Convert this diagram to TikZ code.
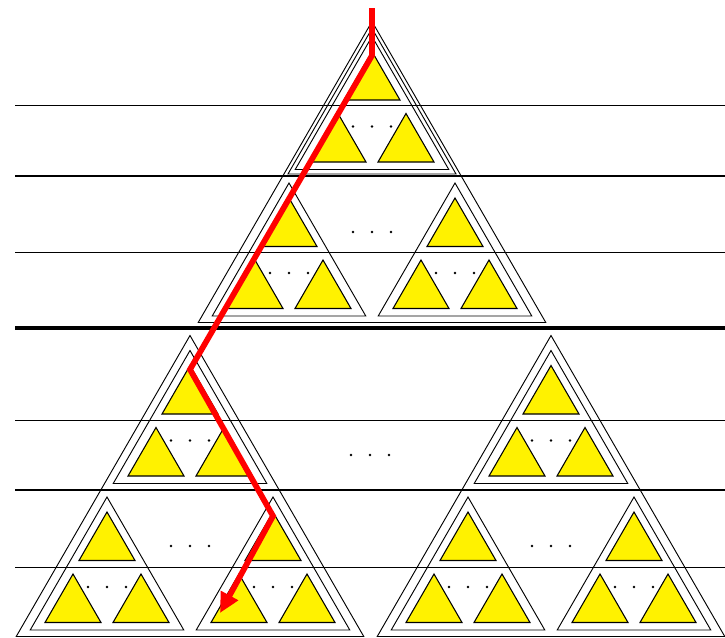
\documentclass[tikz,border=0pt]{standalone}
\usetikzlibrary{arrows.meta}
\tikzset{
  yellowtri/.style={draw=black, fill=yellow, line width=0.8pt},
  frametri/.style={draw=black, line width=0.7pt},
  thinrule/.style={draw=black, line width=0.6pt},
  midrule/.style={draw=black, line width=2pt},
  thickrule/.style={draw=black, line width=3.2pt},
  searchpath/.style={draw=red, line width=4.3pt, -{Triangle[length=15pt,width=14pt]}},
  dotmark/.style={fill=black}
}
% yellow leaf triangle, apex at (#1,#2)
\newcommand{\yellowtri}[2]{\filldraw[yellowtri] (#1,#2) -- ++(-28,48.5) -- ++(56,0) -- cycle;}
% frame triangle: apex x, apex y, height
\newcommand{\frametri}[3]{\draw[frametri] (#1,#2) -- ++({-#3/sqrt(3)},#3) -- ++({2*#3/sqrt(3)},0) -- cycle;}
\newcommand{\threedots}[3]{%
  \fill[dotmark] (#1-#3,#2) circle (1.1pt) (#1,#2) circle (1.1pt) (#1+#3,#2) circle (1.1pt);}
% small unit: name, x, y (apex of its frame)
\newcommand{\levelone}[3]{%
  \frametri{#2}{#3}{133}
  \yellowtri{#2}{#3+15}
  \yellowtri{#2-34}{#3+77}
  \yellowtri{#2+34}{#3+77}
  \threedots{#2}{#3+90}{19}
  \coordinate (#1-top) at (#2,#3+15);
  \coordinate (#1-bl) at (#2-53,#3+116);
}
% big unit: name, x, y (apex of its top small unit)
\newcommand{\leveltwo}[3]{%
  \frametri{#2}{#3-15}{301}
  \levelone{#1-t}{#2}{#3}
  \levelone{#1-l}{#2-83}{#3+146.5}
  \levelone{#1-r}{#2+83}{#3+146.5}
  \threedots{#2}{#3+195.5}{19}
}
\begin{document}
\begin{tikzpicture}[x=0.75pt, y=-0.75pt]
  \useasboundingbox (0,0) rectangle (725,637);
  % level boundaries
  \draw[thinrule] (15,105) -- (725,105);
  \draw[midrule] (15,176) -- (725,176);
  \draw[thinrule] (15,252) -- (725,252);
  \draw[thickrule] (15,328) -- (725,328);
  \draw[thinrule] (15,420) -- (725,420);
  \draw[midrule] (15,490) -- (725,490);
  \draw[thinrule] (15,567) -- (725,567);
  % top half
  \leveltwo{T}{372}{36.5}
  \frametri{372}{28.5}{145.5}
  % bottom half
  \leveltwo{L}{190}{350.5}
  \leveltwo{R}{551}{350.5}
  \threedots{370}{455}{19}
  % search path
  \coordinate (start) at (372,8);
  \draw[searchpath] (start) -- ([yshift=-3pt]T-t-top) -- ([yshift=-3pt]L-t-top)
    -- ([yshift=-3pt]L-r-top) -- (L-r-bl);
\end{tikzpicture}
\end{document}
